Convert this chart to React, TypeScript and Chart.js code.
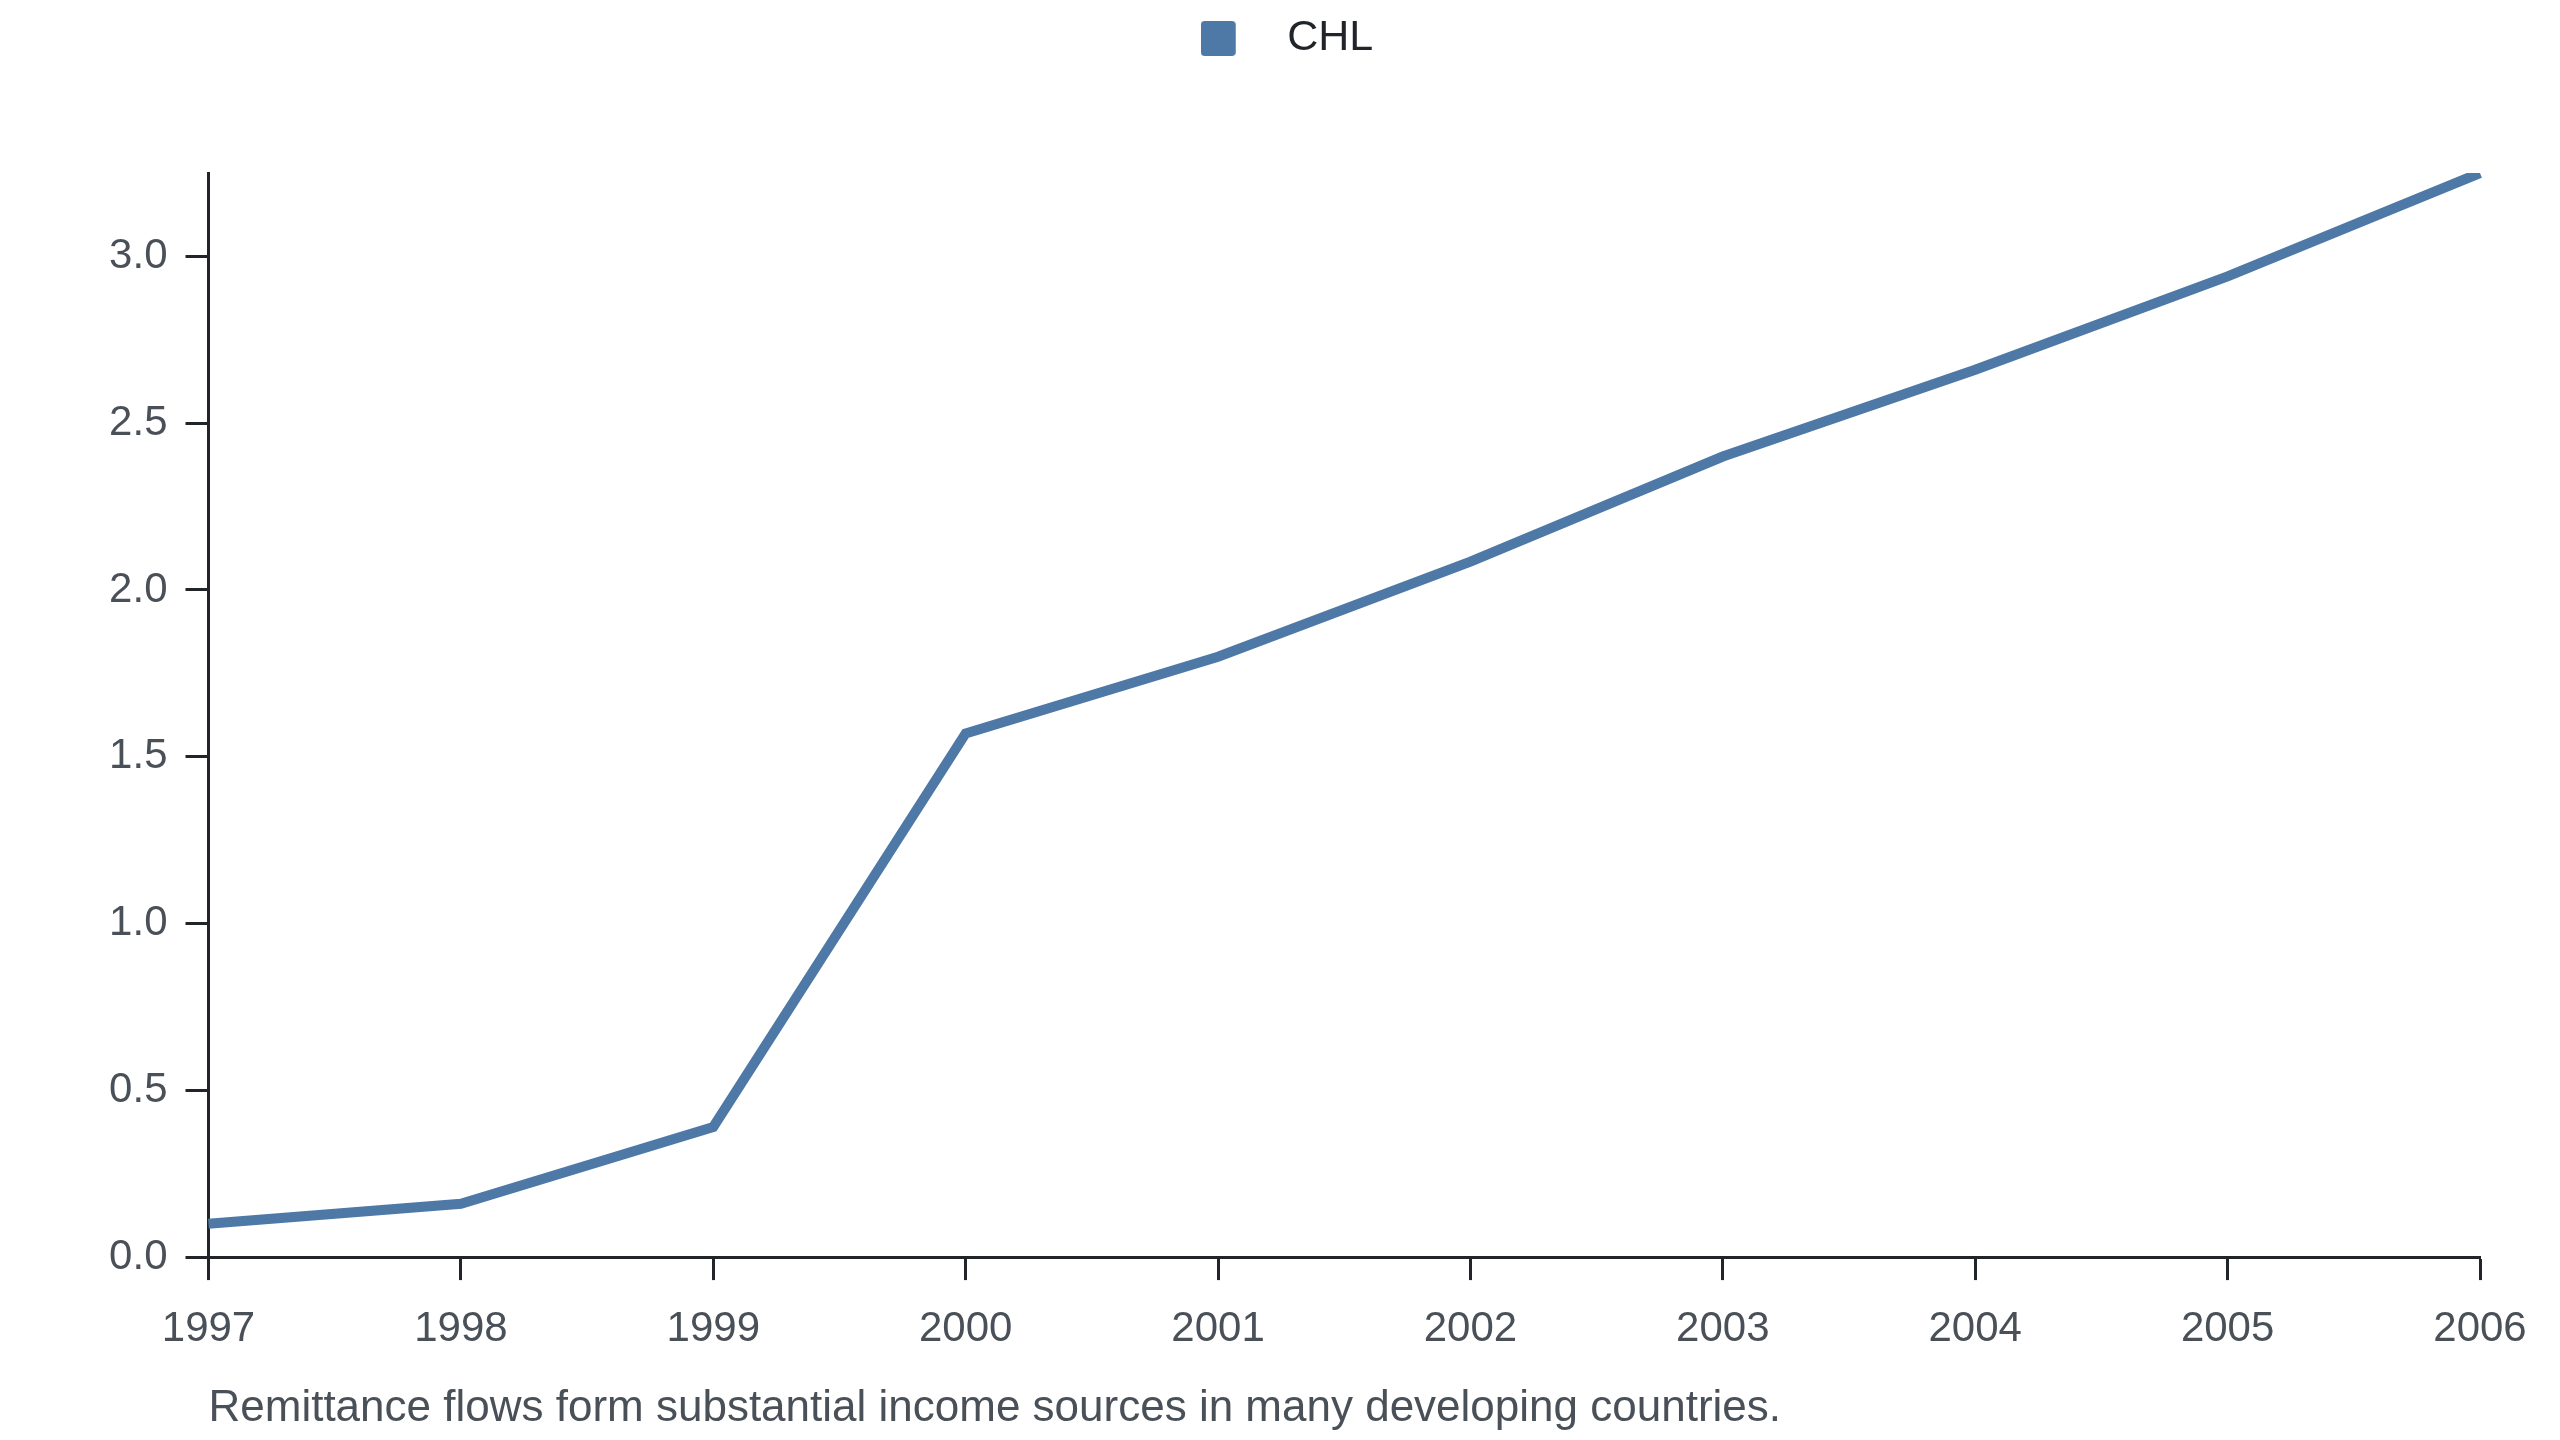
import { useEffect, useRef } from "react";
import { Chart, registerables } from "chart.js";

Chart.register(...registerables);

const years = ["1997", "1998", "1999", "2000", "2001", "2002", "2003", "2004", "2005", "2006"];
const chlValues = [0.1, 0.16, 0.39, 1.57, 1.8, 2.085, 2.4, 2.66, 2.94, 3.25];
const seriesLabel = "CHL";
const caption = "Remittance flows form substantial income sources in many developing countries.";

const BLUE = "#4e79a7";
const AXIS = "#212529";
const TICK_TEXT = "#4a5058";
const FONT = '"Liberation Sans", Arial, Helvetica, sans-serif';

// legend swatch: square on the left of a wider transparent canvas, so the text sits further right
function makeSwatch() {
  const c = document.createElement("canvas");
  c.width = 65;
  c.height = 35;
  const g = c.getContext("2d")!;
  g.fillStyle = BLUE;
  g.beginPath();
  g.roundRect(0, 0, 35, 35, 4);
  g.fill();
  return c;
}

const legendSpacer = {
  id: "legendSpacer",
  beforeInit(chart: any) {
    const legend = chart.legend;
    if (!legend) return;
    const fit = legend.fit;
    legend.fit = function () {
      fit.call(this);
      this.height += 103;
    };
  },
};

const captionPlugin = {
  id: "caption",
  afterDraw(chart: any) {
    const { ctx, chartArea } = chart;
    ctx.save();
    ctx.font = `44px ${FONT}`;
    ctx.fillStyle = TICK_TEXT;
    ctx.textAlign = "left";
    ctx.textBaseline = "alphabetic";
    ctx.fillText(caption, chartArea.left, chart.height - 19);
    ctx.restore();
  },
};

export default function App() {
  const canvasRef = useRef<HTMLCanvasElement>(null);

  useEffect(() => {
    const ctx = canvasRef.current?.getContext("2d");
    if (!ctx) return;

    const chart = new Chart(ctx, {
      type: "line",
      data: {
        labels: years,
        datasets: [
          {
            label: seriesLabel,
            data: chlValues,
            borderColor: BLUE,
            backgroundColor: BLUE,
            borderWidth: 10,
            pointRadius: 0,
            tension: 0,
          },
        ],
      },
      options: {
        animation: false,
        responsive: true,
        maintainAspectRatio: false,
        layout: { padding: { left: 94, right: 80, top: 0, bottom: 61.5 } },
        plugins: {
          legend: {
            position: "top",
            labels: {
              usePointStyle: true,
              pointStyle: makeSwatch(),
              pointStyleWidth: 65,
              boxHeight: 35,
              padding: 17,
              color: AXIS,
              font: { family: FONT, size: 43 },
            },
          },
          tooltip: { enabled: false },
        },
        scales: {
          x: {
            grid: {
              drawOnChartArea: false,
              drawTicks: true,
              tickLength: 23,
              tickWidth: 3,
              color: AXIS,
            },
            border: { color: AXIS, width: 3 },
            ticks: {
              color: TICK_TEXT,
              padding: 24,
              maxRotation: 0,
              font: { family: FONT, size: 42 },
            },
          },
          y: {
            min: 0,
            max: 3.25,
            afterFit(scale: any) {
              scale.width = 114.5;
            },
            grid: {
              drawOnChartArea: false,
              drawTicks: true,
              tickLength: 23,
              tickWidth: 3,
              color: AXIS,
            },
            border: { color: AXIS, width: 3 },
            ticks: {
              stepSize: 0.5,
              includeBounds: false,
              color: TICK_TEXT,
              padding: 18,
              font: { family: FONT, size: 42 },
              callback: (v: any) => Number(v).toFixed(1),
            },
          },
        },
      },
      plugins: [legendSpacer, captionPlugin],
    });

    return () => chart.destroy();
  }, []);

  return (
    <div style={{ position: "absolute", left: 0, top: 0, width: 2560, height: 1440, background: "#fff" }}>
      <canvas ref={canvasRef} />
    </div>
  );
}
